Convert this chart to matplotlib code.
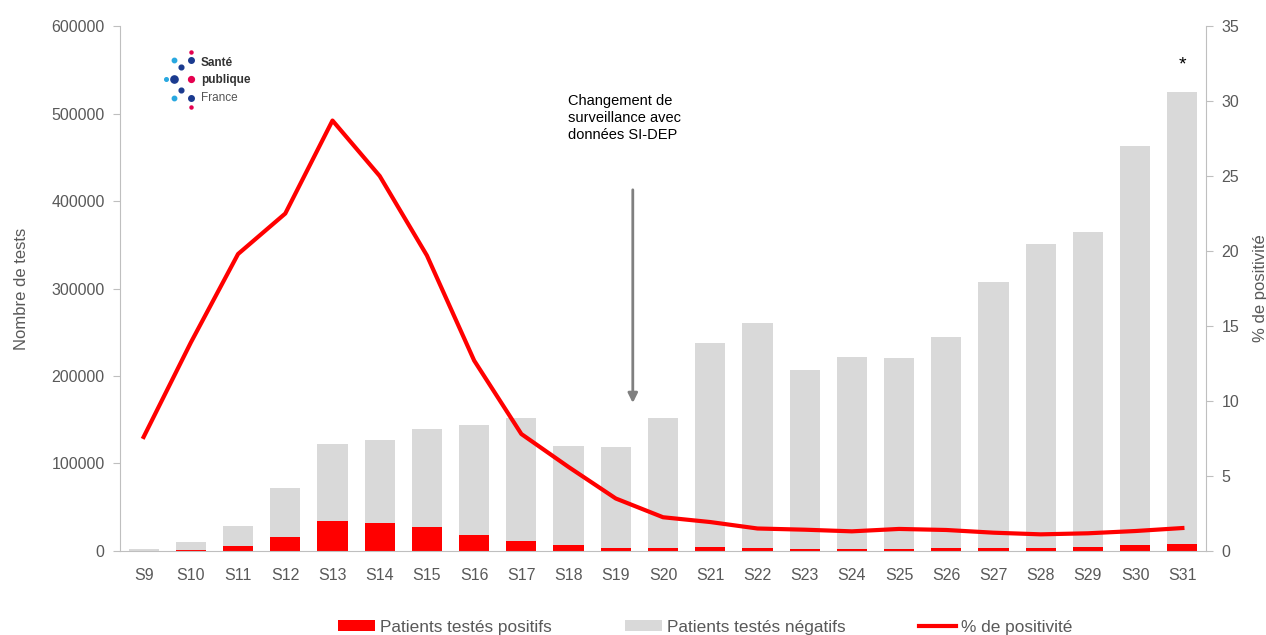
import matplotlib.pyplot as plt
import numpy as np

plt.rcParams["font.family"] = ["Liberation Sans", "DejaVu Sans"]

semaines = ["S9", "S10", "S11", "S12", "S13", "S14", "S15", "S16", "S17", "S18", "S19",
            "S20", "S21", "S22", "S23", "S24", "S25", "S26", "S27", "S28", "S29", "S30", "S31"]
total_tests = [2300, 10300, 28300, 72000, 122000, 127000, 139500, 144000, 152000, 120500,
               119300, 152000, 237700, 260600, 206900, 221700, 220600, 244600, 307400,
               350900, 364600, 462900, 524600]
positifs = [300, 1100, 5300, 16000, 34700, 31600, 27400, 17900, 11400, 6500, 3400,
            3200, 4500, 3400, 2300, 2300, 2300, 3400, 3400, 3400, 4500, 6500, 7600]
pct_positivite = [7.6, 13.9, 19.8, 22.5, 28.7, 25.0, 19.7, 12.7, 7.8, 5.6, 3.5,
                  2.25, 1.93, 1.5, 1.42, 1.31, 1.47, 1.4, 1.22, 1.11, 1.18, 1.33, 1.53]

negatifs = np.array(total_tests) - np.array(positifs)
x = np.arange(len(semaines))

gris = "#595959"
W, H = 1266, 635
fig = plt.figure(figsize=(W / 100, H / 100), dpi=100)
ax = fig.add_axes([0.0948, 0.1323, 0.8578, 0.8267])

b1 = ax.bar(x, positifs, width=0.64, color="#ff0000", label="Patients testés positifs")
b2 = ax.bar(x, negatifs, width=0.64, bottom=positifs, color="#d9d9d9",
            label="Patients testés négatifs")
ax.set_xlim(-0.5, 22.5)
ax.set_ylim(0, 600000)
ax.set_yticks(range(0, 600001, 100000))
ax.set_xticks(x)
ax.set_xticklabels(semaines)
ax.set_ylabel("Nombre de tests", fontsize=12, color=gris, labelpad=16)
ax.tick_params(axis="x", length=0, labelsize=11.5, labelcolor=gris, pad=12)
ax.tick_params(axis="y", length=5, color="#bfbfbf", labelsize=11.5, labelcolor=gris, pad=6)
for s in ["top", "right"]:
    ax.spines[s].set_visible(False)
for s in ["left", "bottom"]:
    ax.spines[s].set_color("#bfbfbf")

ax2 = ax.twinx()
l1, = ax2.plot(x, pct_positivite, color="#ff0000", lw=3, label="% de positivité")
ax2.set_ylim(0, 35)
ax2.set_yticks(range(0, 36, 5))
ax2.set_ylabel("% de positivité", fontsize=12, color=gris, labelpad=10)
ax2.tick_params(axis="y", length=5, color="#bfbfbf", labelsize=11.5, labelcolor=gris, pad=6)
for s in ["top", "left", "bottom"]:
    ax2.spines[s].set_visible(False)
ax2.spines["right"].set_color("#bfbfbf")

# annotation changement de surveillance
ax.annotate("", xy=(10.36, 166000), xytext=(10.36, 416000),
            arrowprops=dict(arrowstyle="-|>", color="#808080", lw=2, mutation_scale=14))
ax.text(8.98, 522000, "Changement de\nsurveillance avec\ndonnées SI-DEP", fontsize=10.5,
        va="top", ha="left", color="black", linespacing=1.25)
ax.text(22, 556000, "*", fontsize=14, ha="center", va="center")

# logo Santé publique France (approximation), positions en pixels
dots = [(174, 79, "#1a3a8f", 5.2), (166, 79, "#29a8e0", 2.6), (190.7, 79, "#e5004f", 4.2),
        (190.7, 60, "#1a3a8f", 4.0), (190.7, 98, "#1a3a8f", 4.0),
        (180.7, 67, "#1a3a8f", 3.4), (180.7, 90, "#1a3a8f", 3.4),
        (174, 60, "#29a8e0", 3.2), (174, 98, "#29a8e0", 3.2),
        (190.7, 52, "#e5004f", 2.2), (190.7, 106.5, "#e5004f", 2.2)]
for px, py, c, ms in dots:
    fig.add_artist(plt.Line2D([px / W], [1 - py / H], marker="o", color=c,
                              markersize=ms, transform=fig.transFigure))
fig.text(201 / W, 1 - 63 / H, "Santé", fontsize=8.5, fontweight="bold", color="#333333", va="center")
fig.text(201 / W, 1 - 80 / H, "publique", fontsize=8.5, fontweight="bold", color="#333333", va="center")
fig.text(201 / W, 1 - 98 / H, "France", fontsize=8.5, color="#555555", va="center")

fig.legend(handles=[b1, b2, l1], loc="center", bbox_to_anchor=(0.557, 0.012), ncol=3,
           frameon=False, fontsize=12.4, handlelength=2.15, handleheight=0.6,
           columnspacing=4.3, handletextpad=0.25, labelcolor=gris)

fig.savefig("out.png", dpi=100)
